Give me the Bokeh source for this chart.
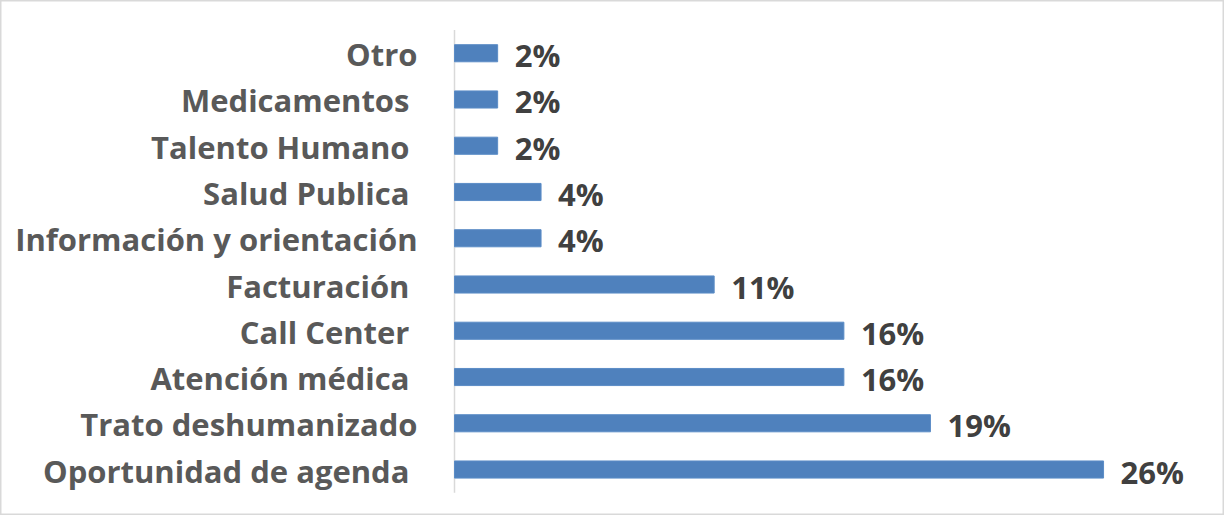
from bokeh.plotting import figure
from bokeh.models import ColumnDataSource, Range1d
from bokeh.core.properties import value
from bokeh.embed import file_html
from bokeh.resources import INLINE

# categories from bottom to top
categories = ["Oportunidad de agenda ", "Trato deshumanizado", "Atención médica ",
              "Call Center ", "Facturación ", "Información y orientación",
              "Salud Publica ", "Talento Humano ", "Medicamentos ", "Otro"]
values = [26.32, 19.30, 15.79, 15.79, 10.53, 3.51, 3.51, 1.75, 1.75, 1.75]
value_labels = ["26%", "19%", "16%", "16%", "11%", "4%", "4%", "2%", "2%", "2%"]

ypos = list(range(len(categories)))
src = ColumnDataSource(dict(y=ypos, v=values, cat=categories, lab=value_labels,
                            zero=[0] * len(categories)))

W, H = 1224, 515
px_per_unit = 24.66
x0 = 454
p = figure(width=W, height=H, output_backend="svg", toolbar_location=None,
           x_range=Range1d(-x0 / px_per_unit, (W - x0) / px_per_unit),
           y_range=Range1d(-0.994, 10.14),
           min_border=0, min_border_left=0, min_border_right=0,
           min_border_top=0, min_border_bottom=0)
p.xaxis.visible = False
p.yaxis.visible = False
p.xgrid.visible = False
p.ygrid.visible = False
p.outline_line_color = "#D9D9D9"
p.outline_line_width = 2
p.background_fill_color = "white"
p.border_fill_color = "white"

# vertical axis line
p.segment(x0=[0], y0=[-0.5], x1=[0], y1=[len(categories) - 0.5],
          line_color="#D9D9D9", line_width=1.5)

p.hbar(y="y", left=0, right="v", height=0.37, source=src,
       fill_color="#4F81BD", line_color="#5B8CC6", line_width=1)

p.text(x="zero", y="y", text="cat", source=src, x_offset=-37, y_offset=1,
       text_align="right", text_baseline="middle",
       text_font=value("Open Sans"), text_font_style="bold",
       text_font_size="31px", text_color="#595959")

p.text(x="v", y="y", text="lab", source=src, x_offset=17, y_offset=2,
       text_align="left", text_baseline="middle",
       text_font=value("Open Sans"), text_font_style="bold",
       text_font_size="31px", text_color="#404040")

open("out.html", "w").write(file_html(p, INLINE))
